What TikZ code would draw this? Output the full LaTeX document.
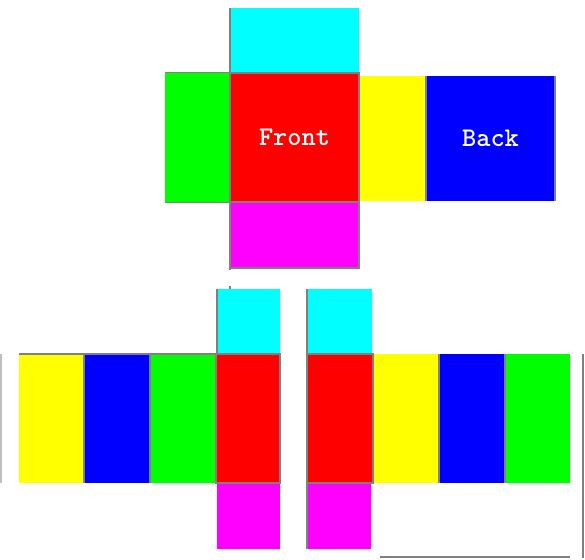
\documentclass[tikz,border=0pt]{standalone}
\usepackage{fontspec}
\usetikzlibrary{positioning}
\definecolor{faceCyan}{RGB}{0,255,255}
\definecolor{faceRed}{RGB}{255,0,0}
\definecolor{faceGreen}{RGB}{0,255,0}
\definecolor{faceMagenta}{RGB}{255,0,255}
\definecolor{faceYellow}{RGB}{255,255,0}
\definecolor{faceBlue}{RGB}{0,0,255}
\definecolor{rimGray}{RGB}{128,128,128}

\begin{document}
\begin{tikzpicture}[x=1pt,y=-1pt,
                    face/.style={rectangle,inner sep=0pt,outer sep=0pt,anchor=north west},
                    rim/.style={draw=rimGray,line width=1.5pt},
                    side text/.style={text=white,font=\ttfamily\bfseries\fontsize{27}{27}\selectfont}]
  \useasboundingbox (0,0) rectangle (585,559);

  % upper net
  \node[face,fill=faceCyan,minimum width=129pt,minimum height=65pt] (top1) at (230,8) {};
  \node[face,fill=faceRed,minimum width=129pt,minimum height=129pt,side text] (front) at (230,73) {Front};
  \node[face,fill=faceGreen,minimum width=65pt,minimum height=129pt] (left1) at (165,73) {};
  \node[face,fill=faceMagenta,minimum width=129pt,minimum height=66pt] (down1) at (230,202) {};
  \node[face,fill=faceYellow,minimum width=66pt,minimum height=125pt] (right1) at (360,76) {};
  \node[face,fill=faceBlue,minimum width=129pt,minimum height=125pt,side text] (back) at (426,76) {Back};

  \draw[rim] (top1.north west) -- ([yshift=-2pt]down1.south west);
  \draw[rim] (front.north west) rectangle (front.south east);
  \draw[rim] (down1.south west) -- (down1.south east) -- (down1.north east);
  \draw[rim,line width=1pt] (left1.north west) -- (left1.north east)
                            (left1.south west) -- (left1.south east);
  \draw[rim] (back.north west) -- (back.south west)
             (back.north east) -- (back.south east);

  % lower left strip
  \node[face,fill=faceCyan,minimum width=63pt,minimum height=65pt] (top2) at (217,289) {};
  \node[face,fill=faceYellow,minimum width=65pt,minimum height=129pt] (right2) at (19,354) {};
  \node[face,fill=faceBlue,minimum width=66pt,minimum height=129pt] (back2) at (84,354) {};
  \node[face,fill=faceGreen,minimum width=66pt,minimum height=129pt] (left2) at (150,354) {};
  \node[face,fill=faceRed,minimum width=64pt,minimum height=129pt] (front2) at (216,354) {};
  \node[face,fill=faceMagenta,minimum width=63pt,minimum height=66pt] (down2) at (217,483) {};

  \draw[rim] ([xshift=13pt]top2.north west) -- ++(0,-3);
  \draw[draw=lightgray,line width=1.5pt] ([xshift=-18pt]right2.north west) -- ([xshift=-18pt]right2.south west);
  \draw[rim,line width=1.2pt] (right2.north west) -- (front2.north east);
  \draw[rim] (back2.north west) -- (back2.south west)
             (left2.north west) -- (left2.south west);
  \draw[rim] (top2.north west) -- (top2.south west);
  \draw[rim] (front2.north west) rectangle (front2.south east);

  % lower right strip
  \node[face,fill=faceCyan,minimum width=65pt,minimum height=65pt] (top3) at (307,289) {};
  \node[face,fill=faceRed,minimum width=66pt,minimum height=129pt] (front3) at (307,354) {};
  \node[face,fill=faceYellow,minimum width=66pt,minimum height=129pt] (right3) at (373,354) {};
  \node[face,fill=faceBlue,minimum width=66pt,minimum height=129pt] (back3) at (439,354) {};
  \node[face,fill=faceGreen,minimum width=65pt,minimum height=129pt] (left3) at (505,354) {};
  \node[face,fill=faceMagenta,minimum width=64pt,minimum height=66pt] (down3) at (307,483) {};

  \draw[rim] (top3.north west) -- (down3.south west);
  \draw[rim] (front3.north west) rectangle (front3.south east);
  \draw[rim] (back3.north west) -- (back3.south west)
             (left3.north west) -- (left3.south west);
  \draw[rim] ([xshift=13pt]left3.north east) -- ++(0,204);
  \draw[rim] ([yshift=-74pt]left3.south east) -- ++(-190,0);
\end{tikzpicture}
\end{document}
